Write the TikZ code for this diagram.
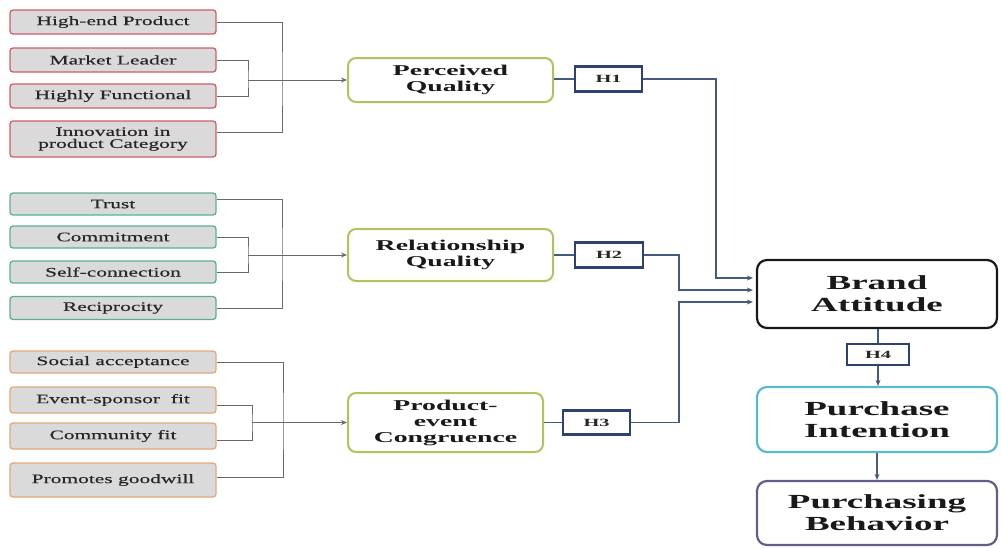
\documentclass[tikz,border=0pt]{standalone}
\usepackage{fontspec}
\setmainfont{Liberation Serif}
\newfontfamily\wideR[FakeStretch=1.65,FakeBold=0.4]{Liberation Serif}
\newfontfamily\wideB[FakeStretch=1.85]{Liberation Serif}
\usetikzlibrary{arrows.meta}
\definecolor{redb}{RGB}{205,95,105}
\definecolor{tealb}{RGB}{90,175,155}
\definecolor{orgb}{RGB}{225,170,120}
\definecolor{oliveb}{RGB}{175,195,95}
\definecolor{hblue}{RGB}{45,65,115}
\definecolor{pib}{RGB}{90,185,205}
\definecolor{pbb}{RGB}{95,95,135}
\definecolor{boxfill}{RGB}{218,218,218}
\definecolor{lline}{RGB}{105,105,105}
\definecolor{hline}{RGB}{70,90,125}
\begin{document}
\begin{tikzpicture}[x=1pt,y=-1pt,
 leftbox/.style={draw, line width=1.3pt, fill=boxfill, rounded corners=3pt, minimum width=206pt, inner sep=0pt, align=center, text=black!85, font=\wideR\fontsize{13}{12}\selectfont},
 midbox/.style={draw=oliveb, line width=2pt, fill=white, rounded corners=8pt, inner sep=0pt, align=center, text=black!90, font=\wideB\bfseries\fontsize{15}{16}\selectfont},
 bigbox/.style={draw, line width=2.2pt, fill=white, rounded corners=10pt, minimum width=240pt, inner sep=0pt, align=center, text=black!90, font=\wideB\bfseries\fontsize{20}{22}\selectfont},
 hbox/.style={draw=hblue, line width=2.2pt, fill=white, inner sep=0pt, align=center, text=black!85, font=\wideB\bfseries\fontsize{11}{12}\selectfont},
 lconn/.style={draw=lline, line width=1pt},
 hconn/.style={draw=hline, line width=1.5pt},
 arr/.style={-{Stealth[length=6pt,width=5pt]}}
]
\useasboundingbox (0,0) rectangle (1002,547);

% red group
\node[leftbox, draw=redb, minimum height=24pt] (hp) at (113,22) {High-end Product};
\node[leftbox, draw=redb, minimum height=24pt] (ml) at (113,60) {Market Leader};
\node[leftbox, draw=redb, minimum height=24pt] (hf) at (113,96) {Highly Functional};
\node[leftbox, draw=redb, minimum height=36pt] (ip) at (113,139) {Innovation in\\product Category};
% teal group
\node[leftbox, draw=tealb, minimum height=22pt] (tr) at (113,204) {Trust};
\node[leftbox, draw=tealb, minimum height=22pt] (cm) at (113,237) {Commitment};
\node[leftbox, draw=tealb, minimum height=22pt] (sc) at (113,272) {Self-connection};
\node[leftbox, draw=tealb, minimum height=23pt] (rc) at (113,308) {Reciprocity};
% orange group
\node[leftbox, draw=orgb, minimum height=22pt] (sa) at (113,362) {Social acceptance};
\node[leftbox, draw=orgb, minimum height=26pt] (es) at (113,400) {Event-sponsor\ \ fit};
\node[leftbox, draw=orgb, minimum height=26pt] (cf) at (113,436) {Community fit};
\node[leftbox, draw=orgb, minimum height=34pt] (pg) at (113,480) {Promotes goodwill};

% middle boxes
\node[midbox, minimum width=205pt, minimum height=44pt] (pq) at (450.5,80) {Perceived\\Quality};
\node[midbox, minimum width=205pt, minimum height=52pt] (rq) at (450.5,255) {Relationship\\Quality};
\node[midbox, minimum width=195pt, minimum height=59pt] (pe) at (445.5,422.5) {Product-\\event\\Congruence};

% hypothesis boxes
\node[hbox, minimum width=67pt, minimum height=25pt] (h1) at (608.5,79) {H1};
\node[hbox, minimum width=68pt, minimum height=25pt] (h2) at (609,255) {H2};
\node[hbox, minimum width=67pt, minimum height=24pt] (h3) at (596.5,422.5) {H3};
\node[hbox, minimum width=62pt, minimum height=21pt] (h4) at (878,354.5) {H4};

% right boxes
\node[bigbox, draw=black!90, minimum height=68pt] (ba) at (877,294) {Brand\\Attitude};
\node[bigbox, draw=pib, minimum height=65pt] (pi) at (877,419.5) {Purchase\\Intention};
\node[bigbox, draw=pbb, minimum height=64pt] (pb) at (877,513) {Purchasing\\Behavior};

% left connectors
\coordinate (o1) at (282,80); \coordinate (i1) at (248,80);
\coordinate (o2) at (282,255); \coordinate (i2) at (248,255);
\coordinate (o3) at (283,422.5); \coordinate (i3) at (252,422.5);
\draw[lconn] (hp.east) -| (o1) |- ([yshift=7pt]ip.east);
\draw[lconn] (ml.east) -| (i1) |- (hf.east);
\draw[lconn,arr] (i1) -- (pq.west);
\draw[lconn] ([yshift=5pt]tr.east) -| (o2) |- (rc.east);
\draw[lconn] (cm.east) -| (i2) |- (sc.east);
\draw[lconn,arr] (i2) -- (rq.west);
\draw[lconn] (sa.east) -| (o3) |- ([yshift=3pt]pg.east);
\draw[lconn] ([yshift=-5pt]es.east) -| (i3) |- ([yshift=-4pt]cf.east);
\draw[lconn,arr] (i3) -- (pe.west);

% hypothesis connectors
\draw[hconn] (h1.west -| pq.east) -- (h1.west);
\draw[hconn] (h2.west -| rq.east) -- (h2.west);
\draw[hconn] (h3.west -| pe.east) -- (h3.west);
\draw[hconn,arr,shorten >=3pt] (h1.east) -| ([xshift=-40pt,yshift=16pt]ba.west) -- ([yshift=16pt]ba.west);
\draw[hconn,arr,shorten >=3pt] (h2.east) -| ([xshift=-77pt,yshift=4pt]ba.west) -- ([yshift=4pt]ba.west);
\draw[hconn,arr,shorten >=3pt] (h3.east) -| ([xshift=-77pt,yshift=-8pt]ba.west) -- ([yshift=-8pt]ba.west);
\draw[hconn] (ba.south -| h4.north) -- (h4.north);
\draw[hconn,arr] (h4.south) -- (h4.south |- pi.north);
\draw[hconn,arr] (pi.south) -- (pb.north);
\end{tikzpicture}
\end{document}
